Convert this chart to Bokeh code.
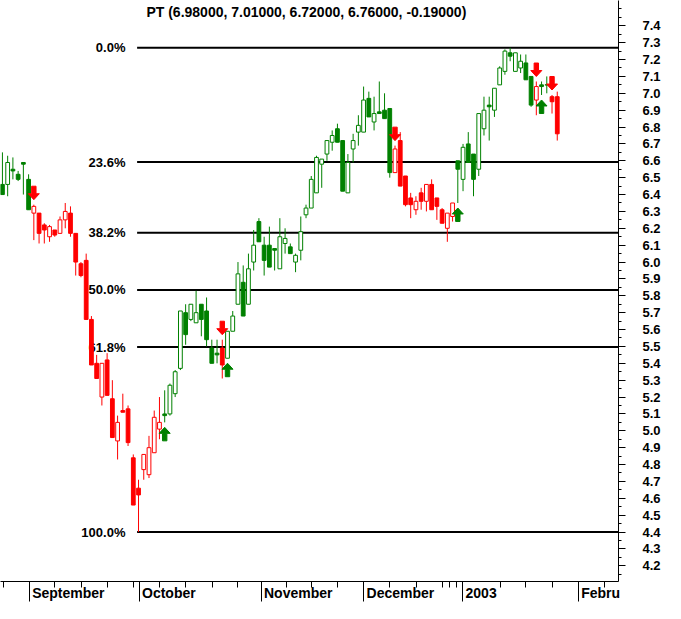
from bokeh.plotting import figure
from bokeh.models import Range1d, FixedTicker, PrintfTickFormatter, CustomJSTickFormatter, LinearAxis
from bokeh.core.properties import value
from bokeh.embed import file_html
from bokeh.resources import INLINE

# ---------------- data ----------------
opens = [6.46, 6.46, 6.55, 6.52, 6.59, 6.49, 6.29, 6.29, 6.22, 6.15,
         6.19, 6.17, 6.25, 6.29, 6.17, 5.99, 6.01, 5.66, 5.40, 5.20,
         5.42, 5.19, 4.94, 5.12, 5.13, 4.84, 4.66, 4.77, 4.74, 4.87,
         5.01, 5.10, 5.10, 5.22, 5.37, 5.70, 5.66, 5.64, 5.75, 5.71,
         5.49, 5.46, 5.49, 5.43, 5.59, 5.75, 5.88, 5.75, 6.00, 6.24,
         6.10, 6.10, 6.08, 5.96, 6.11, 6.09, 6.00, 6.07, 6.28, 6.32,
         6.41, 6.58, 6.64, 6.71, 6.79, 6.72, 6.41, 6.67, 6.77, 6.77,
         6.97, 6.83, 6.89, 6.90, 6.91, 6.53, 6.72, 6.51, 6.38, 6.31,
         6.41, 6.36, 6.46, 6.38, 6.31, 6.20, 6.27, 6.60, 6.49, 6.70,
         6.64, 6.55, 6.79, 6.93, 6.90, 7.05, 7.13, 7.24, 7.13, 7.15,
         7.18, 7.10, 6.96, 7.05, 7.05, 6.98, 6.98]
highs = [6.65, 6.63, 6.62, 6.54, 6.59, 6.52, 6.34, 6.29, 6.23, 6.22,
         6.19, 6.27, 6.35, 6.33, 6.17, 6.00, 6.05, 5.68, 5.45, 5.40,
         5.46, 5.30, 5.09, 5.22, 5.15, 4.86, 4.71, 4.86, 4.97, 5.12,
         5.20, 5.24, 5.28, 5.36, 5.71, 5.75, 5.75, 5.83, 5.75, 5.79,
         5.54, 5.54, 5.54, 5.59, 5.71, 6.00, 5.98, 6.05, 6.19, 6.26,
         6.15, 6.21, 6.08, 6.26, 6.20, 6.11, 6.05, 6.27, 6.34, 6.51,
         6.63, 6.61, 6.72, 6.78, 6.82, 6.72, 6.64, 6.76, 6.87, 7.04,
         7.01, 6.98, 7.07, 7.00, 6.91, 6.69, 6.77, 6.51, 6.41, 6.39,
         6.44, 6.46, 6.49, 6.38, 6.32, 6.29, 6.35, 6.60, 6.70, 6.77,
         6.64, 6.88, 6.98, 6.98, 7.03, 7.16, 7.26, 7.27, 7.24, 7.23,
         7.23, 7.10, 7.07, 7.07, 7.10, 6.99, 7.01]
lows = [6.40, 6.39, 6.49, 6.48, 6.40, 6.31, 6.13, 6.11, 6.11, 6.12,
        6.15, 6.17, 6.20, 6.15, 5.92, 5.91, 5.66, 5.39, 5.31, 5.15,
        5.21, 4.96, 4.83, 5.11, 4.91, 4.56, 4.40, 4.71, 4.72, 4.87,
        4.95, 5.05, 5.09, 5.20, 5.36, 5.51, 5.65, 5.64, 5.56, 5.50,
        5.40, 5.40, 5.31, 5.43, 5.59, 5.75, 5.68, 5.75, 5.95, 6.12,
        5.92, 5.97, 5.95, 5.96, 6.05, 6.05, 5.94, 6.01, 6.26, 6.32,
        6.41, 6.44, 6.60, 6.66, 6.71, 6.42, 6.41, 6.59, 6.69, 6.77,
        6.86, 6.78, 6.88, 6.85, 6.50, 6.53, 6.45, 6.33, 6.26, 6.28,
        6.31, 6.30, 6.31, 6.25, 6.23, 6.12, 6.24, 6.35, 6.42, 6.59,
        6.39, 6.51, 6.75, 6.72, 6.86, 7.05, 7.11, 7.19, 7.13, 7.12,
        7.08, 6.92, 6.87, 6.99, 7.00, 6.88, 6.72]
closes = [6.40, 6.59, 6.54, 6.49, 6.58, 6.31, 6.33, 6.17, 6.19, 6.21,
          6.16, 6.25, 6.30, 6.17, 6.00, 5.92, 5.66, 5.39, 5.31, 5.40,
          5.21, 4.96, 5.05, 5.11, 4.93, 4.56, 4.62, 4.86, 4.90, 5.08,
          5.05, 5.09, 5.27, 5.35, 5.71, 5.57, 5.75, 5.70, 5.66, 5.54,
          5.40, 5.45, 5.39, 5.59, 5.68, 5.93, 5.68, 5.96, 6.10, 6.12,
          6.01, 5.97, 6.07, 6.15, 6.14, 6.05, 6.04, 6.18, 6.32, 6.49,
          6.62, 6.61, 6.72, 6.75, 6.71, 6.42, 6.59, 6.72, 6.81, 6.96,
          6.86, 6.88, 6.88, 6.85, 6.53, 6.67, 6.45, 6.34, 6.34, 6.36,
          6.36, 6.46, 6.31, 6.33, 6.23, 6.29, 6.35, 6.55, 6.68, 6.59,
          6.49, 6.88, 6.90, 6.92, 7.03, 7.15, 7.25, 7.22, 7.24, 7.19,
          7.08, 6.93, 7.04, 7.04, 7.05, 6.95, 6.76]

signal_idx = [6, 31, 42, 43, 75, 87, 102, 103, 105]
signal_dir = ["down", "up", "down", "up", "down", "up", "down", "up", "down"]

fib_ratios = [0.0, 23.6, 38.2, 50.0, 61.8, 100.0]

month_ticks = [5.1, 26.1, 49.4, 69.0, 87.9, 110.0]
month_labels = ["September", "October", "November", "December", "2003", "Febru"]
week_ticks = [0.13, 9.9, 15.06, 20.15, 25.13, 30.04, 35.07, 40.11, 44.96, 54.29,
              58.96, 64.0, 73.88, 79.1, 84.14, 85.45, 86.7, 95.09, 100.0, 105.04, 114.93]
price_ticks = [round(4.2 + 0.1 * k, 1) for k in range(33)]
price_minor = [round(4.15 + 0.05 * k, 2) for k in range(68)]

symbol = "PT"

# ---------------- layout ----------------
W, H = 665, 603
RIGHT, BOTTOM = 47, 21
FW, FH = W - RIGHT, H - BOTTOM
x0, x1 = -0.37, 117.7
y0, y1 = 4.107, 7.55
fx = (x1 - x0) / FW
fy = (y1 - y0) / FH

GREEN = "#008000"
RED = "#FF0000"
FONT = "Liberation Sans"
# half widths (px) of the bold 14px month names, so that each one starts just
# right of its month tick
label_half_px = [36.2, 26.8, 34.2, 33.8, 15.6, 19.4]

p = figure(width=W, height=H, output_backend="svg", toolbar_location=None,
           x_range=Range1d(x0, x1), y_range=Range1d(y0, y1),
           y_axis_location="right", min_border_left=0, min_border_top=0,
           min_border_right=RIGHT, min_border_bottom=BOTTOM)
p.outline_line_color = None
p.xgrid.visible = False
p.ygrid.visible = False
p.background_fill_color = "white"
p.border_fill_color = "white"

# right price axis
ya = p.yaxis[0]
ya.ticker = FixedTicker(ticks=price_ticks, minor_ticks=price_minor)
ya.formatter = PrintfTickFormatter(format="%.1f")
ya.major_tick_in = 0
ya.major_tick_out = 7
ya.minor_tick_in = 0
ya.minor_tick_out = 3
ya.major_label_standoff = 17
ya.major_label_text_font = FONT
ya.major_label_text_font_style = "bold"
ya.major_label_text_font_size = "13px"
ya.major_label_text_color = "black"
ya.axis_line_color = "black"

# bottom date axis: tick marks only (drawn outward, taking no room)
xa = p.xaxis[0]
xa.ticker = FixedTicker(ticks=month_ticks, minor_ticks=week_ticks)
xa.formatter = CustomJSTickFormatter(code="return ''")
xa.major_tick_out = 0
xa.major_tick_in = -20
xa.minor_tick_out = 0
xa.minor_tick_in = -6
xa.major_label_standoff = 0
xa.major_label_text_font_size = "1px"
xa.axis_line_color = "black"

# month names, each starting just right of its month tick
label_pos = [m + (3 + h) * fx for m, h in zip(month_ticks, label_half_px)]
xl = LinearAxis(ticker=FixedTicker(ticks=label_pos, minor_ticks=[]),
                formatter=CustomJSTickFormatter(args=dict(labels=month_labels),
                                                code="return labels[index]"))
xl.axis_line_color = None
xl.major_tick_line_color = None
xl.minor_tick_line_color = None
xl.major_tick_in = 0
xl.major_tick_out = 0
xl.minor_tick_in = 0
xl.minor_tick_out = 0
xl.major_label_standoff = 3
xl.major_label_text_font = FONT
xl.major_label_text_font_style = "bold"
xl.major_label_text_font_size = "14px"
xl.major_label_text_color = "black"
p.add_layout(xl, "below")

# ---------------- trend colours ----------------
n = len(closes)
idx = list(range(n))
trend = "up"
sig = dict(zip(signal_idx, signal_dir))
colors = []
for i in idx:
    if i in sig:
        trend = sig[i]
    colors.append(GREEN if trend == "up" else RED)
fills = [c if closes[i] < opens[i] else "white" for i, c in enumerate(colors)]
tops = [max(o, c) for o, c in zip(opens, closes)]
bots = [min(o, c) for o, c in zip(opens, closes)]

# ---------------- fibonacci retracement ----------------
hi = max(highs)
lo = min(lows)
lo_i = lows.index(lo)
levels = [hi - r / 100.0 * (hi - lo) for r in fib_ratios]
fib_text = ["%.1f%%" % r for r in fib_ratios]
p.text(x=[lo_i - 2.5] * len(levels), y=levels, text=fib_text,
       text_align="right", text_baseline="middle",
       text_font=value(FONT), text_font_style="bold", text_font_size="13px",
       text_color="black")
p.segment(x0=[lo_i - 0.27] * len(levels), y0=levels, x1=[x1] * len(levels), y1=levels,
          line_color="black", line_width=2)

# ---------------- candles ----------------
p.segment(x0=idx, y0=lows, x1=idx, y1=highs, line_color=colors, line_width=1)
p.vbar(x=idx, width=0.72, top=tops, bottom=bots, fill_color=fills, line_color=colors,
       line_width=1)

# ---------------- signal arrows ----------------
axs, ays, acol = [], [], []
for i, d in zip(signal_idx, signal_dir):
    if d == "down":
        tip = highs[i] + 5 * fy
        s = 1
        col = RED
    else:
        tip = lows[i] - 5 * fy
        s = -1
        col = GREEN
    base = tip + s * 6 * fy
    tail = tip + s * 13.5 * fy
    hw, sw = 5.5 * fx, 2.2 * fx
    axs.append([i, i - hw, i - sw, i - sw, i + sw, i + sw, i + hw])
    ays.append([tip, base, base, tail, tail, base, base])
    acol.append(col)
p.patches(xs=axs, ys=ays, fill_color=acol, line_color=acol, line_width=1)

# ---------------- title ----------------
chg = closes[-1] - closes[-2]
title = "%s (%.5f, %.5f, %.5f, %.5f, %.5f)" % (symbol, opens[-1], highs[-1], lows[-1],
                                              closes[-1], chg)
p.text(x=[(x0 + x1) / 2 - 0.6], y=[y1 - 12 * fy], text=[title], text_align="center",
       text_baseline="middle", text_font=value(FONT), text_font_style="bold",
       text_font_size="14px", text_color="black")

open("out.html", "w").write(file_html(p, INLINE))
